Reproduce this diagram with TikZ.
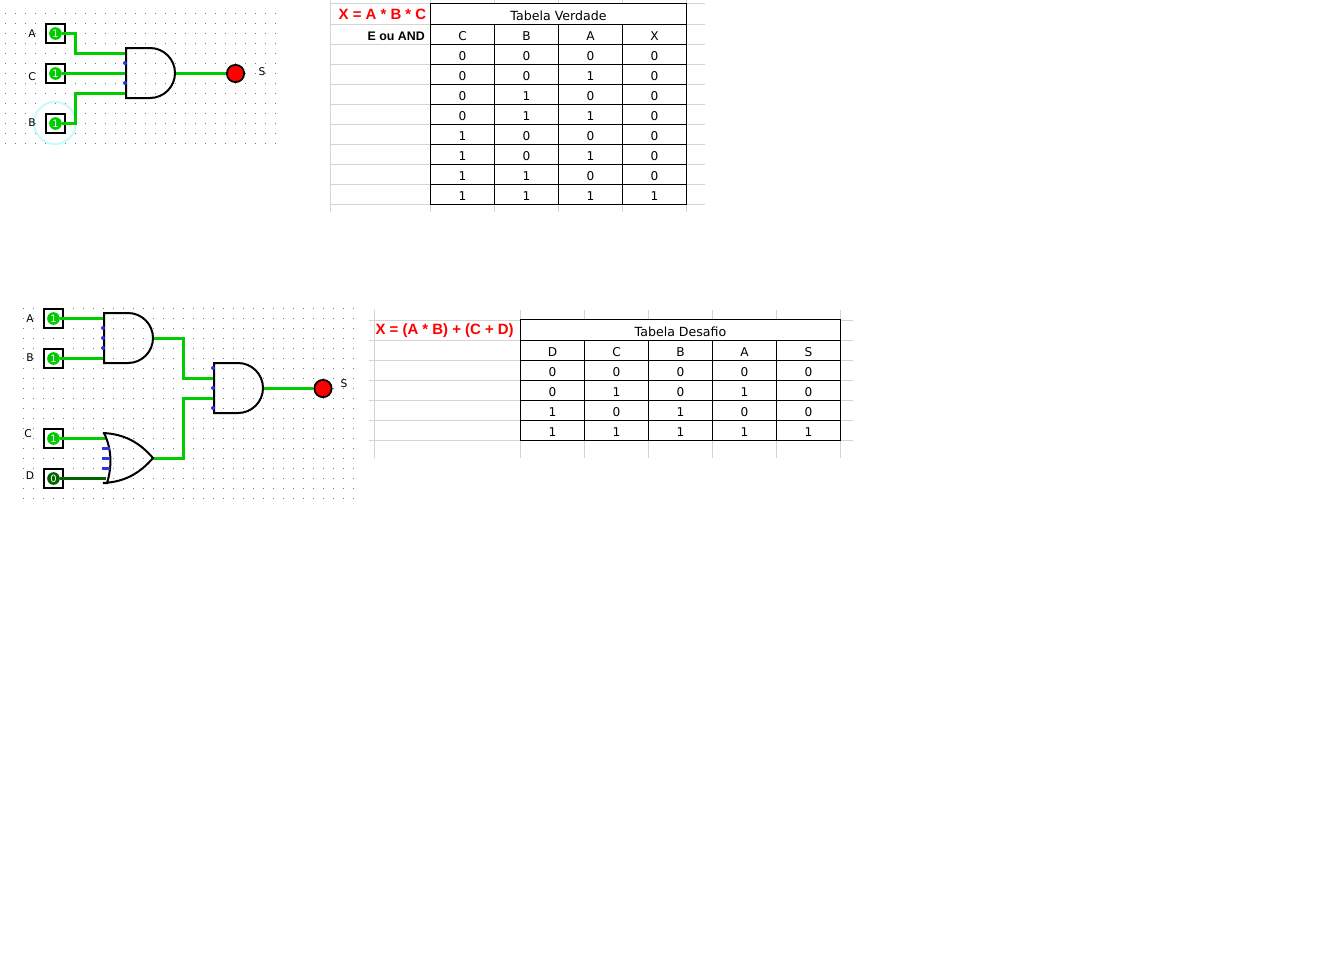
\documentclass[tikz,border=0pt]{standalone}
\usepackage{fontspec}
\setmainfont{Liberation Sans}
\newfontfamily\sheetfont{DejaVu Sans}
\definecolor{wireon}{RGB}{0,204,0}
\definecolor{wireoff}{RGB}{0,100,0}
\definecolor{gridgray}{RGB}{212,212,212}
\definecolor{halocyan}{RGB}{200,250,250}
\definecolor{portblue}{RGB}{50,50,230}
\tikzset{
	pinbox/.style={draw=black, line width=1.5pt, fill=white, minimum size=14pt, inner sep=0pt},
	pinled/.style={circle, fill=wireon, text=white, minimum size=9.5pt, inner sep=0pt, font=\sheetfont\fontsize{7.5}{7.5}\selectfont},
	pinledoff/.style={pinled, fill=wireoff},
	lamp/.style={circle, draw=black, line width=1.3pt, fill=red, minimum size=13pt, inner sep=0pt},
	wire/.style={wireon, line width=2.25pt, line join=miter},
	wireoffline/.style={wireoff, line width=2.25pt},
	gate/.style={draw=black, line width=1.5pt, line join=miter},
	pinlabel/.style={font=\sheetfont\fontsize{8}{8}\selectfont, inner sep=0pt},
	cell/.style={font=\sheetfont\fontsize{9.1}{9.1}\selectfont, inner sep=0pt},
	tabletitle/.style={font=\sheetfont\fontsize{9.45}{9.45}\selectfont, inner sep=0pt},
	redtitle/.style={font=\fontsize{11.2}{11.2}\selectfont\bfseries, text=red, inner sep=0pt, anchor=east},
	griddot/.style={fill=black!55},
	sheetline/.style={gridgray, line width=0.75pt},
	tableline/.style={black, line width=0.75pt},
}
\begin{document}
\begin{tikzpicture}[x=0.75pt, y=-0.75pt, line cap=butt]
	\useasboundingbox[fill=white] (0,0) rectangle (1338,971);
	% grid dots of the two circuits
	\foreach \i in {0,...,27}
		\foreach \j in {0,...,13}
			\fill[griddot] ({5+10*\i-0.5},{13+10*\j-0.5}) rectangle +(1,1);
	\foreach \i in {0,...,33}
		\foreach \j in {0,...,19}
			\fill[griddot] ({23+10*\i-0.5},{308+10*\j-0.5}) rectangle +(1,1);

	% sheet lines, first table
	\foreach \y in {3.5,24.5,44.5,64.5,84.5,104.5,124.5,144.5,164.5,184.5,204.5}
		\draw[sheetline] (330,\y) -- (705,\y);
	\foreach \x in {330.5,430.5,494.5,558.5,622.5,686.5}
		\draw[sheetline] (\x,0) -- (\x,212);
	% sheet lines, second table
	\foreach \y in {320.5,340.5,360.5,380.5,400.5,420.5,440.5}
		\draw[sheetline] (369,\y) -- (853,\y);
	\foreach \x in {374.5,520.5,584.5,648.5,712.5,776.5,840.5}
		\draw[sheetline] (\x,310) -- (\x,458);

	% first circuit
	\fill[white] (431,4) rectangle (686,204);
	\draw[halocyan, line width=1.5pt] (55,123) circle (21);
	\node[pinbox] (boxA) at (55.5,33.5) {};
	\node[pinbox] (boxC) at (55.5,73.5) {};
	\node[pinbox] (boxB) at (55.5,123.5) {};
	\node[pinled] (ledA) at (boxA) {1};
	\node[pinled] (ledC) at (boxC) {1};
	\node[pinled] (ledB) at (boxB) {1};
	\node[pinlabel] (labA) at (32,33.5) {A};
	\node[pinlabel] (labC) at (32,76.5) {C};
	\node[pinlabel] (labB) at (32,123) {B};
	\coordinate (andW) at (126,73.5);
	\coordinate (andIn1) at (126,53.5);
	\coordinate (andIn3) at (126,93.5);
	\coordinate (andOut) at (175,73.5);
	\node[lamp] (lampS) at (235.5,73.5) {};
	\node[pinlabel] (labS) at (262,72) {S};
	\draw[wire] (ledA.east) -- (75.5,33.5) -- (75.5,53.5) -- (andIn1);
	\draw[wire] (ledC.east) -- (andW);
	\draw[wire] (ledB.east) -- (75.5,123.5) -- (75.5,93.5) -- (andIn3);
	\draw[wire] (andOut) -- (lampS.west);
	\draw[gate] (126,48) -- (150,48) arc (-90:90:25) -- (126,98) -- cycle;
	\foreach \y in {63,83}
		\fill[portblue] (125,\y) circle (2);

	% first table
	\draw[tableline] (430.5,3.5) rectangle (686.5,204.5);
	\foreach \y in {24.5,44.5,64.5,84.5,104.5,124.5,144.5,164.5,184.5}
		\draw[tableline] (430.5,\y) -- (686.5,\y);
	\foreach \x in {494.5,558.5,622.5}
		\draw[tableline] (\x,24.5) -- (\x,204.5);
	\node[tabletitle] (titleA) at (558.5,15.5) {Tabela Verdade};
	\foreach \t [count=\c] in {C,B,A,X}
		\node[cell] (headA\c) at ({398.5+64*\c},36) {\t};
	\foreach \vals [count=\r] in {{0,0,0,0},{0,0,1,0},{0,1,0,0},{0,1,1,0},{1,0,0,0},{1,0,1,0},{1,1,0,0},{1,1,1,1}}
		\foreach \v [count=\c] in \vals
			\node[cell] (cellA\r\c) at ({398.5+64*\c},{36+20*\r}) {\v};
	\node[redtitle] (formulaA) at (426.5,14.5) {X = A * B * C};
	\node[inner sep=0pt, anchor=east, font=\fontsize{9.3}{9.3}\selectfont\bfseries] (andName) at (425,36) {E ou AND};

	% second circuit
	\node[pinbox] (boxA2) at (53.5,318.5) {};
	\node[pinbox] (boxB2) at (53.5,358.5) {};
	\node[pinbox] (boxC2) at (53.5,438.5) {};
	\node[pinbox] (boxD2) at (53.5,478.5) {};
	\node[pinled] (ledA2) at (boxA2) {1};
	\node[pinled] (ledB2) at (boxB2) {1};
	\node[pinled] (ledC2) at (boxC2) {1};
	\node[pinledoff] (ledD2) at (boxD2) {0};
	\node[pinlabel] (labA2) at (30,319) {A};
	\node[pinlabel] (labB2) at (30,358) {B};
	\node[pinlabel] (labC2) at (28,434) {C};
	\node[pinlabel] (labD2) at (30,476) {D};
	\node[lamp] (lampS2) at (323,388.5) {};
	\node[pinlabel] (labS2) at (344,383.5) {S};
	\coordinate (andAin1) at (104,318.5);
	\coordinate (andAin2) at (104,358.5);
	\coordinate (andAout) at (153,338.5);
	\coordinate (andBin1) at (214,378.5);
	\coordinate (andBin2) at (214,398.5);
	\coordinate (andBout) at (263,388.5);
	\coordinate (orIn1) at (106,438.5);
	\coordinate (orIn2) at (106,478.5);
	\coordinate (orOut) at (153,458.5);
	\draw[wire] (ledA2.east) -- (andAin1);
	\draw[wire] (ledB2.east) -- (andAin2);
	\draw[wire] (ledC2.east) -- (orIn1);
	\draw[wireoffline] (ledD2.east) -- (orIn2);
	\draw[wire] (andAout) -- (183.5,338.5) -- (183.5,378.5) -- (andBin1);
	\draw[wire] (orOut) -- (183.5,458.5) -- (183.5,398.5) -- (andBin2);
	\draw[wire] (andBout) -- (lampS2.west);
	\draw[gate] (104,313) -- (128,313) arc (-90:90:25) -- (104,363) -- cycle;
	\draw[gate] (214,363) -- (238,363) arc (-90:90:25) -- (214,413) -- cycle;
	\draw[gate] (103,433) .. controls (125,434) and (140,443) .. (153,458)
		.. controls (140,473) and (125,482) .. (103,483) -- (107,483)
		.. controls (112,467) and (112,449) .. (104,433) -- cycle;
	\foreach \y in {328,338,348}
		\fill[portblue] (103,\y) circle (2);
	\foreach \y in {368,388,408}
		\fill[portblue] (213,\y) circle (2);
	\foreach \y in {448.5,458.5,468.5}
		\draw[portblue, line width=2.25pt] (102,\y) -- (110,\y);

	% second table
	\fill[white] (521,320) rectangle (840,440);
	\draw[tableline] (520.5,319.5) rectangle (840.5,440.5);
	\foreach \y in {340.5,360.5,380.5,400.5,420.5}
		\draw[tableline] (520.5,\y) -- (840.5,\y);
	\foreach \x in {584.5,648.5,712.5,776.5}
		\draw[tableline] (\x,340.5) -- (\x,440.5);
	\node[tabletitle] (titleB) at (680.5,331.5) {Tabela Desafio};
	\foreach \t [count=\c] in {D,C,B,A,S}
		\node[cell] (headB\c) at ({488.5+64*\c},352) {\t};
	\foreach \vals [count=\r] in {{0,0,0,0,0},{0,1,0,1,0},{1,0,1,0,0},{1,1,1,1,1}}
		\foreach \v [count=\c] in \vals
			\node[cell] (cellB\r\c) at ({488.5+64*\c},{352+20*\r}) {\v};
	\node[redtitle] (formulaB) at (514,331) {X = (A * B) + (C + D)};
\end{tikzpicture}
\end{document}
